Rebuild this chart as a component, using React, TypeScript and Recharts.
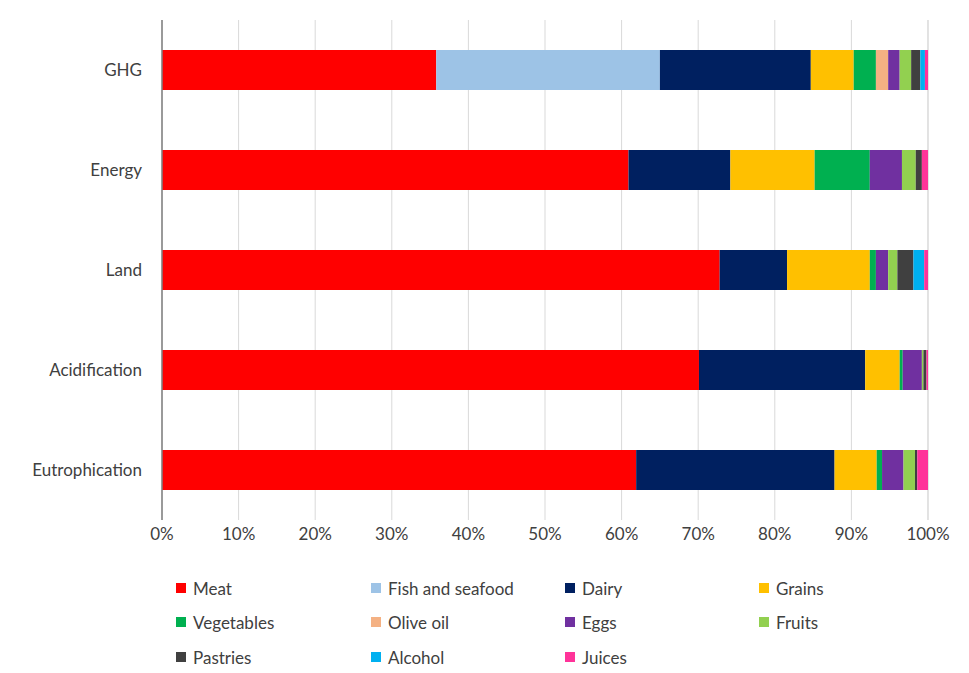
import { BarChart, Bar, XAxis, YAxis, CartesianGrid } from 'recharts';

const categories = ['GHG', 'Energy', 'Land', 'Acidification', 'Eutrophication'];

const meat = [35.8, 60.9, 72.8, 70.1, 61.9];
const fish = [29.2, 0, 0, 0, 0];
const dairy = [19.7, 13.3, 8.8, 21.7, 25.9];
const grains = [5.6, 11.0, 10.8, 4.5, 5.5];
const vegetables = [2.9, 7.2, 0.8, 0.4, 0.7];
const oliveOil = [1.6, 0, 0, 0, 0];
const eggs = [1.5, 4.2, 1.6, 2.5, 2.8];
const fruits = [1.5, 1.8, 1.2, 0.2, 1.5];
const pastries = [1.2, 0.8, 2.1, 0.4, 0.3];
const alcohol = [0.6, 0, 1.4, 0, 0];
const juices = [0.4, 0.8, 0.5, 0.2, 1.4];

const xTicks = [0, 10, 20, 30, 40, 50, 60, 70, 80, 90, 100];

const series = [
  { key: 'meat', name: 'Meat', color: '#FF0000', values: meat },
  { key: 'fish', name: 'Fish and seafood', color: '#9DC3E6', values: fish },
  { key: 'dairy', name: 'Dairy', color: '#002060', values: dairy },
  { key: 'grains', name: 'Grains', color: '#FFC000', values: grains },
  { key: 'vegetables', name: 'Vegetables', color: '#00B050', values: vegetables },
  { key: 'oliveOil', name: 'Olive oil', color: '#F4B183', values: oliveOil },
  { key: 'eggs', name: 'Eggs', color: '#7030A0', values: eggs },
  { key: 'fruits', name: 'Fruits', color: '#92D050', values: fruits },
  { key: 'pastries', name: 'Pastries', color: '#404040', values: pastries },
  { key: 'alcohol', name: 'Alcohol', color: '#00B0F0', values: alcohol },
  { key: 'juices', name: 'Juices', color: '#FF3399', values: juices },
];

const data = categories.map((cat, i) => {
  const row: any = { cat };
  series.forEach((s) => (row[s.key] = s.values[i]));
  return row;
});

const FONT = 'Lato, "Open Sans", sans-serif';
const legendCols = [176, 371, 565, 759];
const legendRows = [588, 622, 657];

export default function App() {
  return (
    <div style={{ position: 'absolute', left: 0, top: 0, width: 969, height: 673, background: '#fff', fontFamily: FONT }}>
      <BarChart
        width={969}
        height={560}
        data={data}
        layout="vertical"
        margin={{ top: 20, right: 41, bottom: 0, left: 0 }}
        barCategoryGap="30%"
      >
        <CartesianGrid horizontal={false} stroke="#d9d9d9" />
        <XAxis
          type="number"
          domain={[0, 100]}
          ticks={xTicks}
          tickFormatter={(v) => `${v}%`}
          axisLine={false}
          tickLine={false}
          tickSize={0}
          tickMargin={8}
          height={40}
          tick={{ fill: '#404040', fontSize: 17, fontFamily: FONT }}
          interval={0}
        />
        <YAxis
          type="category"
          dataKey="cat"
          width={162}
          axisLine={{ stroke: '#7f7f7f', strokeWidth: 1.5 }}
          tickLine={false}
          tickSize={0}
          tickMargin={20}
          tick={{ fill: '#404040', fontSize: 17, fontFamily: FONT }}
        />
        {series.map((s) => (
          <Bar key={s.key} dataKey={s.key} name={s.name} stackId="a" fill={s.color} isAnimationActive={false} />
        ))}
      </BarChart>
      {series.map((s, i) => {
        const col = legendCols[i % 4];
        const row = legendRows[Math.floor(i / 4)];
        return (
          <div
            key={s.key}
            style={{ position: 'absolute', left: col, top: row - 11, height: 22, display: 'flex', alignItems: 'center', fontSize: 17, color: '#404040', whiteSpace: 'nowrap' }}
          >
            <span style={{ width: 10, height: 10, background: s.color, display: 'inline-block', marginRight: 7 }} />
            {s.name}
          </div>
        );
      })}
    </div>
  );
}
